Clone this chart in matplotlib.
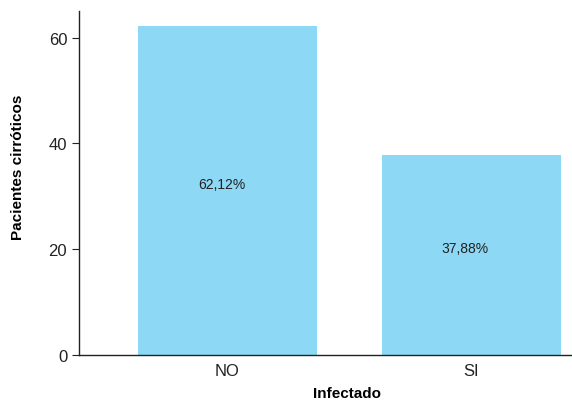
import matplotlib.pyplot as plt

categorias = ['NO', 'SI']
porcentajes = [62.12, 37.88]
etiquetas = ['62,12%', '37,88%']

plt.rcParams['font.family'] = ['Liberation Sans Narrow', 'Liberation Sans', 'DejaVu Sans']

fig = plt.figure(figsize=(5.72, 4.02), dpi=100)
ax = fig.add_axes([0.138, 0.1144, 0.862, 0.8556])

x = range(len(categorias))
ax.bar(x, porcentajes, width=0.733, color='#8dd8f5')
for xi, v, t in zip(x, porcentajes, etiquetas):
    ax.text(xi - 0.025, v / 2, t, ha='center', va='bottom', fontsize=10, color='#222222')

ax.set_xlim(-0.609, 1.412)
ax.set_ylim(0, 65)
ax.set_yticks([0, 20, 40, 60])
ax.set_xticks(list(x))
ax.set_xticklabels(categorias)

ax.spines['top'].set_visible(False)
ax.spines['right'].set_visible(False)
for s in ['left', 'bottom']:
    ax.spines[s].set_color('#222222')
    ax.spines[s].set_linewidth(1.0)
ax.tick_params(axis='y', length=5, labelsize=12, colors='#222222')
ax.tick_params(axis='x', length=0, labelsize=12, colors='#222222', pad=6)

ax.set_xlabel('Infectado', fontsize=11, fontweight='bold', va='center')
ax.set_ylabel('Pacientes cirróticos', fontsize=11, fontweight='bold', va='center')
ax.xaxis.set_label_coords(0.544, -0.110)
ax.yaxis.set_label_coords(-0.124, 0.549)

fig.savefig('out.png', dpi=100)
